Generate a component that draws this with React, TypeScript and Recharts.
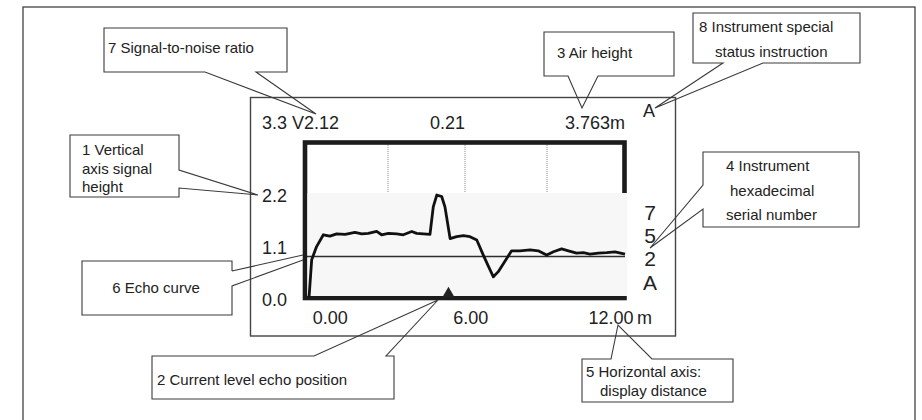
import React from 'react';
import { ComposedChart, Line, XAxis, YAxis, ReferenceLine, Scatter } from 'recharts';

// Echo curve: distance (m) and signal height (V)
const distance = [
  -0.91, -0.8, -0.59, -0.3, -0.02, 0.27, 0.63, 1.05, 1.34, 1.62, 1.98, 2.19, 2.48, 2.84,
  3.12, 3.48, 3.69, 3.98, 4.26, 4.4, 4.55, 4.76, 4.9, 5.12, 5.4, 5.69, 5.97, 6.26, 6.54,
  6.76, 6.97, 7.18, 7.54, 7.75, 8.11, 8.54, 8.89, 9.25, 9.54, 9.89, 10.18, 10.53, 10.82,
  11.1, 11.46, 11.82, 12.17, 12.6,
];
const signal = [
  0.07, 0.85, 1.13, 1.38, 1.35, 1.4, 1.39, 1.43, 1.4, 1.41, 1.45, 1.38, 1.41, 1.4,
  1.38, 1.45, 1.41, 1.4, 1.39, 1.97, 2.22, 2.19, 1.97, 1.3, 1.34, 1.36, 1.34, 1.27, 0.95,
  0.71, 0.49, 0.6, 0.88, 1.04, 1.04, 1.06, 1.04, 0.95, 1.02, 1.08, 1.04, 0.99, 1.0,
  0.97, 0.99, 1.0, 1.02, 0.97,
];
const thresholdLevel = 0.92;
const echoPositionDistance = [5.05];
const echoPositionSignal = [0.13];

const xTicks = [0, 6, 12];
const yTicks = [0, 1.1, 2.2];
const distanceUnit = 'm';

// Display header fields
const maxSignal = '3.3';
const snrText = 'V2.12';
const centerValue = '0.21';
const airHeight = '3.763m';
const statusCode = 'A';
const serialDigits = ['7', '5', '2', 'A'];

// Callout texts
const calloutSnr = ['7 Signal-to-noise ratio'];
const calloutAir = ['3 Air height'];
const calloutStatus = ['8 Instrument special', 'status instruction'];
const calloutVertical = ['1 Vertical', 'axis signal', 'height'];
const calloutEcho = ['6 Echo curve'];
const calloutSerial = ['4 Instrument', 'hexadecimal', 'serial number'];
const calloutLevel = ['2 Current level echo position'];
const calloutHorizontal = ['5 Horizontal axis:', 'display distance'];

const curveData = distance.map((d, i) => ({ d, s: signal[i] }));
const markerData = echoPositionDistance.map((d, i) => ({ d, s: echoPositionSignal[i] }));

const FONT = '"Liberation Sans", Arial, Helvetica, sans-serif';
const W = 922;
const H = 420;

const calloutStroke = { fill: 'none', stroke: '#3a3a3a', strokeWidth: 1.1 };
const calloutText = { fontFamily: FONT, fontSize: 15, fill: '#222' };
const displayText = { fontFamily: FONT, fontSize: 18, fill: '#222' };

function Background() {
  return (
    <svg width={W} height={H} style={{ position: 'absolute', left: 0, top: 0 }}>
      <rect x={0} y={0} width={W} height={H} fill="#ffffff" />
      {/* outer frame */}
      <rect x={23} y={7} width={892} height={430} fill="none" stroke="#333" strokeWidth={1.2} />
      {/* instrument display frame */}
      <rect x={250.5} y={97.5} width={425} height={238.5} fill="none" stroke="#444" strokeWidth={1.4} />
      {/* thick plot frame */}
      <rect x={305} y={142.5} width={319.5} height={155.5} fill="none" stroke="#1c1c1c" strokeWidth={4.6} />
      {/* echo image area */}
      <rect x={307.5} y={193} width={320} height={103} fill="#f7f7f7" />
      {[388, 465, 547].map((x) => (
        <line key={x} x1={x} x2={x} y1={145} y2={193} stroke="#888" strokeWidth={1} strokeDasharray="1 1" />
      ))}

      {/* callout bubbles */}
      <path d="M104,28 H287 V72 H256 L316,114 L205,72 H104 Z" {...calloutStroke} />
      <path d="M544,32 H674 V76 H598 L582,108 L568,76 H544 Z" {...calloutStroke} />
      <path d="M693,13 H860 V63 H763 L655,108 L723,63 H693 Z" {...calloutStroke} />
      <path d="M70,135 H179 V170 L258,195 L179,188 V197 H70 Z" {...calloutStroke} />
      <path d="M232,271 V261 H82 V315 H232 V286 L303,260 M232,271 L303,255" {...calloutStroke} />
      <path d="M703,152 H859 V227 H703 V209 L650,248 L703,185 Z" {...calloutStroke} />
      <path d="M152,356 H314 L438,300 L386,356 H394 V399 H152 Z" {...calloutStroke} />
      <path d="M582,359 H611 L618,325 L652,359 H733 V402 H582 Z" {...calloutStroke} />

      {/* callout texts */}
      <text x={108} y={53} {...calloutText}>{calloutSnr[0]}</text>
      <text x={557} y={58} {...calloutText}>{calloutAir[0]}</text>
      <text x={699} y={32} {...calloutText}>{calloutStatus[0]}</text>
      <text x={715} y={57} {...calloutText}>{calloutStatus[1]}</text>
      <text x={82} y={155} {...calloutText}>{calloutVertical[0]}</text>
      <text x={82} y={174} {...calloutText}>{calloutVertical[1]}</text>
      <text x={82} y={192} {...calloutText}>{calloutVertical[2]}</text>
      <text x={156} y={293} textAnchor="middle" {...calloutText}>{calloutEcho[0]}</text>
      <text x={726} y={171} {...calloutText}>{calloutSerial[0]}</text>
      <text x={730} y={196} {...calloutText}>{calloutSerial[1]}</text>
      <text x={726} y={220} {...calloutText}>{calloutSerial[2]}</text>
      <text x={157} y={385} {...calloutText}>{calloutLevel[0]}</text>
      <text x={586} y={377} {...calloutText}>{calloutHorizontal[0]}</text>
      <text x={600} y={396} {...calloutText}>{calloutHorizontal[1]}</text>

      {/* display header */}
      <text x={262} y={129} {...displayText}>{`${maxSignal} ${snrText}`}</text>
      <text x={447.5} y={129} textAnchor="middle" {...displayText}>{centerValue}</text>
      <text x={625} y={129} textAnchor="end" {...displayText}>{airHeight}</text>
      <text x={649} y={116.5} textAnchor="middle" {...displayText}>{statusCode}</text>
      {serialDigits.map((c, i) => (
        <text key={i} x={650} y={219.5 + i * 23.4} textAnchor="middle" fontFamily={FONT} fontSize={21} fill="#222">
          {c}
        </text>
      ))}
      <text x={637} y={323.8} {...displayText}>{distanceUnit}</text>
    </svg>
  );
}

export default function App() {
  const tickStyle = { fill: '#222', fontSize: 18, fontFamily: FONT };
  return (
    <div style={{ position: 'absolute', left: 0, top: 0, width: W, height: H, background: '#fff' }}>
      <Background />
      <div style={{ position: 'absolute', left: 0, top: 0 }}>
        <ComposedChart
          width={W}
          height={H}
          data={curveData}
          margin={{ top: 144, right: 297, bottom: 90, left: 247 }}
        >
          <XAxis
            type="number"
            dataKey="d"
            domain={[-1, 12.6]}
            ticks={xTicks}
            interval={0}
            tickFormatter={(v: number) => v.toFixed(2)}
            axisLine={false}
            tickLine={false}
            tickSize={0}
            tickMargin={11}
            height={30}
            tick={tickStyle}
          />
          <YAxis
            type="number"
            domain={[0, 3.3]}
            ticks={yTicks}
            interval={0}
            tickFormatter={(v: number) => v.toFixed(1)}
            axisLine={false}
            tickLine={false}
            tickSize={0}
            tickMargin={20}
            width={60}
            tick={tickStyle}
          />
          <ReferenceLine y={thresholdLevel} stroke="#2e2e2e" strokeWidth={1.6} ifOverflow="visible" />
          <Line
            type="linear"
            dataKey="s"
            stroke="#111"
            strokeWidth={2.8}
            strokeLinejoin="round"
            dot={false}
            isAnimationActive={false}
          />
          <Scatter
            data={markerData}
            dataKey="s"
            shape="triangle"
            legendType="none"
            fill="#222"
            size={28}
            isAnimationActive={false}
          />
        </ComposedChart>
      </div>
    </div>
  );
}
